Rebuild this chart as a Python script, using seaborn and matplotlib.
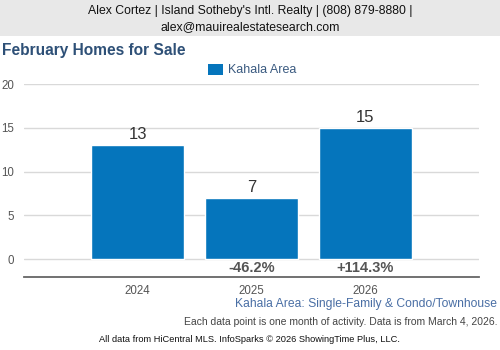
import matplotlib
matplotlib.use("Agg")
import matplotlib.pyplot as plt
from matplotlib.patches import Patch, Rectangle
import pandas as pd
import seaborn as sns

years = ["2024", "2025", "2026"]
homes_for_sale = [13, 7, 15]
series_name = "Kahala Area"
y_ticks = [0, 5, 10, 15, 20]

header_lines = "Alex Cortez | Island Sotheby's Intl. Realty | (808) 879-8880 |\nalex@mauirealestatesearch.com"
title = "February Homes for Sale"
subtitle = "Kahala Area: Single-Family & Condo/Townhouse"
note = "Each data point is one month of activity. Data is from March 4, 2026."
credit = "All data from HiCentral MLS. InfoSparks \u00a9 2026 ShowingTime Plus, LLC."

BAR = "#0575BC"
TITLE_BLUE = "#2E5077"

sns.set_theme(style="white")
plt.rcParams["font.family"] = ["Liberation Sans", "DejaVu Sans"]

W, H = 500, 350
fig = plt.figure(figsize=(W / 100, H / 100), dpi=100)
fig.patch.set_facecolor("white")


def fx(px):
    return px / W


def fy(py):
    return 1 - py / H


# header band
fig.add_artist(Rectangle((0, fy(36)), 1, 36 / H, transform=fig.transFigure,
                         facecolor="#E8E8E8", edgecolor="none", zorder=0))
fig.text(0.5, fy(19), header_lines, ha="center", va="center", fontsize=8.8,
         color="#111111", linespacing=1.4)

fig.text(fx(2), fy(51), title, ha="left", va="center", fontsize=11.2,
         fontweight="bold", color=TITLE_BLUE)

# plot area
ax = fig.add_axes([fx(24), fy(277), fx(479 - 24), (277 - 84) / H])
df = pd.DataFrame({"year": years, "count": homes_for_sale})
sns.barplot(data=df, x="year", y="count", color=BAR, width=0.82,
            saturation=1, ax=ax, zorder=3)

ax.set_xlim(-1, 3)
ax.set_ylim(-2.05, 20)
ax.set_yticks(y_ticks)
ax.set_yticklabels([str(t) for t in y_ticks])
ax.grid(axis="y", color="#D9D9D9", linewidth=1, zorder=0)
ax.set_xlabel("")
ax.set_ylabel("")
for s in ["top", "left", "right"]:
    ax.spines[s].set_visible(False)
ax.spines["bottom"].set_color("#666666")
ax.spines["bottom"].set_linewidth(1.3)
ax.tick_params(axis="both", length=0, labelsize=8.3, colors="#555555")
ax.tick_params(axis="x", pad=6)
ax.tick_params(axis="y", pad=7)

# value labels above bars
for i, v in enumerate(homes_for_sale):
    ax.text(i, v + 0.35, str(v), ha="center", va="bottom", fontsize=12,
            color="#333333")

# year-over-year change labels
for i in range(1, len(homes_for_sale)):
    prev, cur = homes_for_sale[i - 1], homes_for_sale[i]
    pct = (cur - prev) / prev * 100
    ax.text(i, -1.05, f"{pct:+.1f}%", ha="center",
            va="center", fontsize=10.5, fontweight="bold", color="#555555")

# legend
fig.legend(handles=[Patch(facecolor=BAR, edgecolor="none")], labels=[series_name],
           loc="center", bbox_to_anchor=(fx(252), fy(70)), frameon=False,
           handlelength=1.2, handleheight=1.0, handletextpad=0.45,
           fontsize=9, labelcolor="#3A5A80")

fig.text(fx(497), fy(304), subtitle, ha="right", va="center", fontsize=8.7,
         color="#4A6FA5")
fig.text(fx(497), fy(322), note, ha="right", va="center", fontsize=7.5,
         color="#444444")
fig.text(fx(249.5), fy(340), credit, ha="center", va="center", fontsize=6.7,
         color="#111111")

fig.savefig("out.png", dpi=100)
